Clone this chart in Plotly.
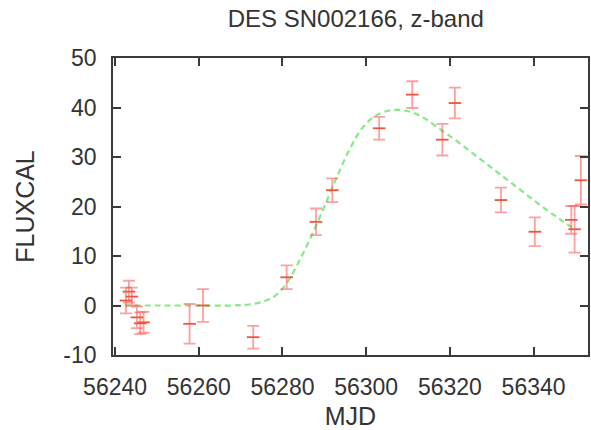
import plotly.graph_objects as go

# Observed z-band photometry (MJD, FLUXCAL, 1-sigma error)
mjd = [56242.6, 56243.3, 56244.0, 56245.2, 56246.0, 56246.8,
       56257.8, 56261.0, 56273.0, 56281.0, 56288.0, 56291.9,
       56303.1, 56311.0, 56318.2, 56321.2, 56332.2, 56340.3,
       56349.0, 56349.8, 56351.3]
flux = [1.0, 2.8, 1.8, -2.4, -3.6, -3.4,
        -3.7, 0.0, -6.4, 5.7, 16.9, 23.3,
        35.8, 42.6, 33.5, 40.9, 21.3, 14.9,
        17.3, 15.4, 25.3]
flux_err = [2.6, 2.2, 1.8, 2.2, 2.2, 2.1,
            4.0, 3.3, 2.3, 2.4, 2.7, 2.4,
            2.3, 2.7, 3.2, 3.1, 2.5, 2.9,
            2.8, 4.7, 4.9]

# Light-curve fit, sampled along the drawn model
fit_mjd = [56242.3, 56250, 56260, 56268, 56272, 56275, 56278, 56281,
           56284, 56287, 56290, 56293, 56296, 56299, 56302, 56305,
           56308, 56311, 56314, 56318, 56322, 56326, 56330, 56334,
           56338, 56342, 56346, 56350]
fit_flux = [0.0, 0.0, 0.0, 0.0, 0.2, 0.7, 1.8, 4.5,
            9.0, 14.2, 20.0, 26.0, 31.5, 35.8, 38.2, 39.3,
            39.5, 39.0, 37.8, 35.4, 33.0, 30.4, 27.8, 25.2,
            22.6, 20.0, 17.6, 15.3]

x_ticks = [56240, 56260, 56280, 56300, 56320, 56340]
y_ticks = [-10, 0, 10, 20, 30, 40, 50]

FONT = "Liberation Sans, Arial, Helvetica, sans-serif"
TEXT_COLOR = "#333333"
AXIS_COLOR = "#3a3a3a"
POINT_COLOR = "rgba(255,80,80,0.55)"

fig = go.Figure()

fig.add_trace(go.Scatter(
    x=fit_mjd, y=fit_flux, mode="lines", line_shape="spline",
    line=dict(color="rgba(120,232,120,0.9)", width=2.2, dash="6px,4px"),
    hoverinfo="skip", showlegend=False,
))

fig.add_trace(go.Scatter(
    x=mjd, y=flux, mode="markers",
    marker=dict(symbol="line-ew-open", size=9,
                line=dict(color=POINT_COLOR, width=1.8)),
    error_y=dict(type="data", array=flux_err, visible=True,
                 color=POINT_COLOR, thickness=1.8, width=6),
    showlegend=False,
))

fig.update_layout(
    width=591, height=430,
    margin=dict(l=113, r=1, t=58, b=75),
    paper_bgcolor="white", plot_bgcolor="white",
    font=dict(family=FONT, size=23, color=TEXT_COLOR),
    title=dict(text="DES SN002166, z-band", x=0.602, xanchor="center",
               y=0.956, yanchor="middle",
               font=dict(family=FONT, size=24, color=TEXT_COLOR)),
)

fig.update_xaxes(
    range=[56239.5, 56353.0], tickvals=x_ticks,
    ticktext=[str(v) for v in x_ticks],
    ticks="inside", ticklen=8, tickwidth=1.5, tickcolor=AXIS_COLOR,
    showline=True, linecolor=AXIS_COLOR, linewidth=1.8, mirror="ticks",
    showgrid=False, zeroline=False,
    tickfont=dict(size=23), ticklabelstandoff=10,
    title=dict(text="MJD", font=dict(size=25), standoff=10),
)
fig.update_yaxes(
    range=[-10, 50], tickvals=y_ticks,
    ticktext=[str(v) for v in y_ticks],
    ticks="inside", ticklen=8, tickwidth=1.5, tickcolor=AXIS_COLOR,
    showline=True, linecolor=AXIS_COLOR, linewidth=1.8, mirror="ticks",
    showgrid=False, zeroline=False,
    tickfont=dict(size=23), ticklabelstandoff=10,
    title=dict(text="FLUXCAL", font=dict(size=25), standoff=22),
)

fig.write_html("out.html")
